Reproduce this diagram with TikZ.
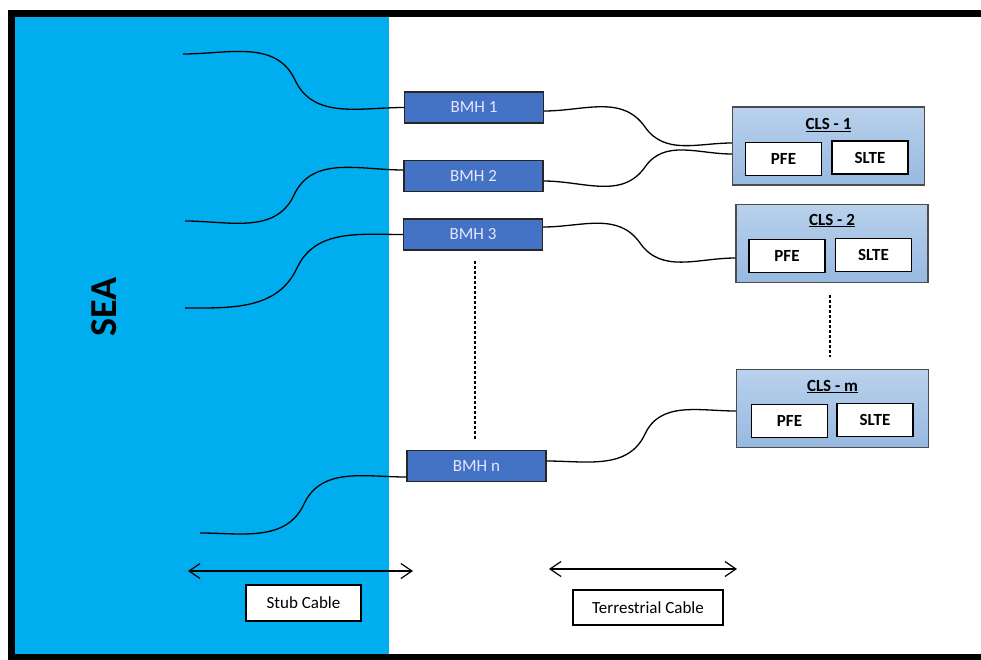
\documentclass[tikz,border=0pt]{standalone}
\usepackage{fontspec}
\setmainfont{Carlito}
\usetikzlibrary{positioning,arrows.meta}

\definecolor{seablue}{HTML}{00AEEF}
\definecolor{bmhblue}{HTML}{4472C4}
\definecolor{clstop}{HTML}{B9D1EC}
\definecolor{clsbot}{HTML}{97B9E0}

\tikzstyle{bmh} = [draw=black!85,line width=1.4pt,fill=bmhblue,text=white!90!blue,minimum width=139pt,minimum height=31pt,inner sep=0pt,font=\fontsize{17}{17}\selectfont]
\tikzstyle{cls} = [draw=black!70,line width=1.2pt,top color=clstop,bottom color=clsbot,minimum width=192pt,minimum height=78pt,inner sep=0pt]
\tikzstyle{clstitle} = [inner sep=1pt,font=\bfseries\fontsize{17}{17}\selectfont]
\tikzstyle{unit} = [draw=black,line width=1.8pt,fill=white,minimum width=76pt,minimum height=33pt,inner sep=0pt,font=\bfseries\fontsize{17}{17}\selectfont]
\tikzstyle{cable} = [draw,line width=1.3pt]
\tikzstyle{dotline} = [draw,line width=1.2pt,dash pattern=on 3pt off 2pt]
\tikzstyle{cablespan} = [draw,line width=1.2pt,{Straight Barb[length=11pt,width=15pt]}-{Straight Barb[length=11pt,width=15pt]}]
\tikzstyle{captionbox} = [draw=black,line width=1.4pt,fill=white,inner sep=0pt,font=\fontsize{17}{17}\selectfont]

\begin{document}
\begin{tikzpicture}[x=1pt,y=-1pt]
   \useasboundingbox (0,0) rectangle (981,659);

   % sea and frame
   \fill[seablue] (15,17) rectangle (389,655);
   \draw[line width=7pt] (995,13) -- (11.5,13) -- (11.5,657) -- (995,657);
   \node[rotate=90,font=\bfseries\fontsize{38}{38}\selectfont] (sea) at (104,307) {SEA};

   % beach manholes
   \node[bmh] (bmh1) at (474,107.5) {BMH 1};
   \node[bmh] (bmh2) at (473.5,176) {BMH 2};
   \node[bmh] (bmh3) at (473,234.5) {BMH 3};
   \node[bmh] (bmhn) at (476.5,466) {BMH n};

   % cable landing stations
   \node[cls] (cls1) at (828.5,146) {};
   \node[clstitle] (t1) at ([shift={(0,-21)}]cls1.center) {\underline{CLS - 1}};
   \node[unit] (pfe1) at ([shift={(-45,13)}]cls1.center) {PFE};
   \node[unit] (slte1) at ([shift={(41.5,11.5)}]cls1.center) {SLTE};

   \node[cls] (cls2) at (832,243.5) {};
   \node[clstitle] (t2) at ([shift={(0,-23)}]cls2.center) {\underline{CLS - 2}};
   \node[unit] (pfe2) at ([shift={(-45,12.5)}]cls2.center) {PFE};
   \node[unit] (slte2) at ([shift={(41.5,11.5)}]cls2.center) {SLTE};

   \node[cls] (clsm) at (832.5,408.5) {};
   \node[clstitle] (tm) at ([shift={(0,-22)}]clsm.center) {\underline{CLS - m}};
   \node[unit] (pfem) at ([shift={(-43,12.5)}]clsm.center) {PFE};
   \node[unit] (sltem) at ([shift={(42.5,11.5)}]clsm.center) {SLTE};

   % free cable ends in the sea
   \coordinate (s1) at (183,54);
   \coordinate (s2) at (185,221);
   \coordinate (s3) at (185,308);
   \coordinate (sn) at (200,533);

   % stub cables
   \path[cable] (s1) to[out=0,in=115] (295,80) to[out=-65,in=180] (bmh1.west);
   \path[cable] (s2) to[out=0,in=-115] (294,195) to[out=65,in=180] ([yshift=6pt]bmh2.west);
   \path[cable] (s3) to[out=0,in=-115] (297,268) to[out=65,in=180] (bmh3.west);
   \path[cable] (sn) to[out=0,in=-115] (304,504) to[out=65,in=180] ([yshift=-11pt]bmhn.west);

   % terrestrial cables
   \path[cable] ([yshift=-3.5pt]bmh1.east) to[out=0,in=125] (645,127) to[out=-55,in=180] ([yshift=3pt]cls1.west);
   \path[cable] ([yshift=-5pt]bmh2.east) to[out=0,in=-125] (645,167) to[out=55,in=180] ([yshift=-8pt]cls1.west);
   \path[cable] ([yshift=7.5pt]bmh3.east) to[out=0,in=125] (640,243) to[out=-55,in=180] ([yshift=-14.5pt]cls2.west);
   \path[cable] ([yshift=5pt]bmhn.east) to[out=0,in=-115] (645,434) to[out=65,in=180] ([yshift=-2.5pt]clsm.west);

   % more of the same
   \path[dotline,shorten <=10pt,shorten >=11pt] ([xshift=2pt]bmh3.south) -- ([xshift=2pt]bmh3.south |- bmhn.north);
   \path[dotline,shorten <=12pt,shorten >=12pt] ([xshift=-2pt]cls2.south) -- ([xshift=-2pt]cls2.south |- clsm.north);

   % spans
   \coordinate (stubA) at (188,571);
   \coordinate (stubB) at (413,571);
   \coordinate (terrA) at (549,569);
   \coordinate (terrB) at (737,569);
   \path[cablespan] (stubA) -- (stubB);
   \path[cablespan] (terrA) -- (terrB);

   \node[captionbox,minimum width=115pt,minimum height=36pt] (stub) at (303.5,603) {Stub Cable};
   \node[captionbox,minimum width=150pt,minimum height=35pt] (terr) at (648,607.5) {Terrestrial Cable};

\end{tikzpicture}
\end{document}
